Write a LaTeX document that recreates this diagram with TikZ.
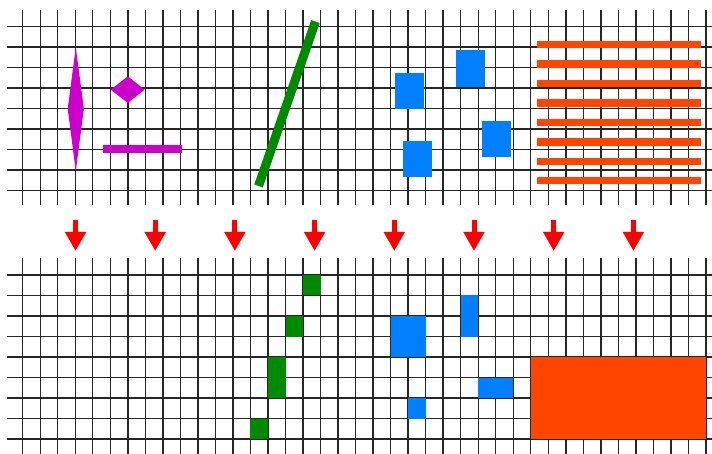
\documentclass[tikz,border=0pt]{standalone}
\usepackage{tikz}
\usetikzlibrary{arrows.meta}
\definecolor{shapeMagenta}{HTML}{CC00CC}
\definecolor{shapeGreen}{HTML}{008A00}
\definecolor{shapeBlue}{HTML}{0080FF}
\definecolor{shapeOrange}{HTML}{FF4500}
\definecolor{arrowRed}{HTML}{FF0000}
\colorlet{gridInk}{black!85}

\begin{document}
\begin{tikzpicture}[x=1pt,y=-1pt,
    gridline/.style={gridInk, line width=1.4pt},
    flowarrow/.style={arrowRed, line width=5pt, -{Triangle[width=20pt,length=19pt]}}]
  \useasboundingbox (0,0) rectangle (712,454);
  % --- panel 1: before rasterizing ---
  \begin{scope}[shift={(22.7,26.7)}, x=17.52pt, y=-20.5pt]
    \foreach \i in {0,...,39} \draw[gridline] (\i,-0.81) -- (\i,8.7);
    \foreach \j in {0,...,8} \draw[gridline] (-0.91,\j) -- (39.4,\j);
    \fill[shapeMagenta] (3.03,1) -- (3.49,4) -- (3.03,7.05) -- (2.57,4) -- cycle;
    \fill[shapeMagenta] (5.02,3.07) -- (6,2.42) -- (6.96,3.07) -- (6,3.72) -- cycle;
    \fill[shapeMagenta] (4.57,5.76) rectangle (9.09,6.15);
    \draw[shapeGreen, line width=9pt] (13.46,7.77) -- (16.71,-0.25);
    \fill[shapeBlue] (21.23,2.24) rectangle (22.90,4.03);
    \fill[shapeBlue] (21.69,5.56) rectangle (23.36,7.35);
    \fill[shapeBlue] (24.73,1.14) rectangle (26.37,2.93);
    \fill[shapeBlue] (26.20,4.61) rectangle (27.85,6.34);
    \foreach \k in {0,...,7}
      \draw[shapeOrange, line width=7.3pt] (29.37,0.878+0.948*\k) -- (38.70,0.878+0.948*\k);
  \end{scope}
  % --- arrows between the panels ---
  \foreach \k in {0,...,7} {
    \coordinate (src\k) at (75.5+79.7*\k,220);
    \coordinate (dst\k) at (75.5+79.7*\k,251);
    \draw[flowarrow] (src\k) -- (dst\k);
  }
  % --- panel 2: after rasterizing ---
  \begin{scope}[shift={(22.7,275)}, x=17.52pt, y=-20.5pt]
    \foreach \i in {0,...,39} \draw[gridline] (\i,-0.81) -- (\i,8.9);
    \foreach \j in {0,...,8} \draw[gridline] (-0.91,\j) -- (39.4,\j);
    \fill[shapeGreen] (16,0) rectangle (17,1);
    \fill[shapeGreen] (15,2) rectangle (16,3);
    \fill[shapeGreen] (14,4) rectangle (15,6);
    \fill[shapeGreen] (13,7) rectangle (14,8);
    \fill[shapeBlue] (21,2) rectangle (23,4);
    \fill[shapeBlue] (22,6) rectangle (23,7);
    \fill[shapeBlue] (25,1) rectangle (26,3);
    \fill[shapeBlue] (26,5) rectangle (28,6);
    \fill[shapeOrange] (29,4) rectangle (39,8);
  \end{scope}
\end{tikzpicture}
\end{document}
